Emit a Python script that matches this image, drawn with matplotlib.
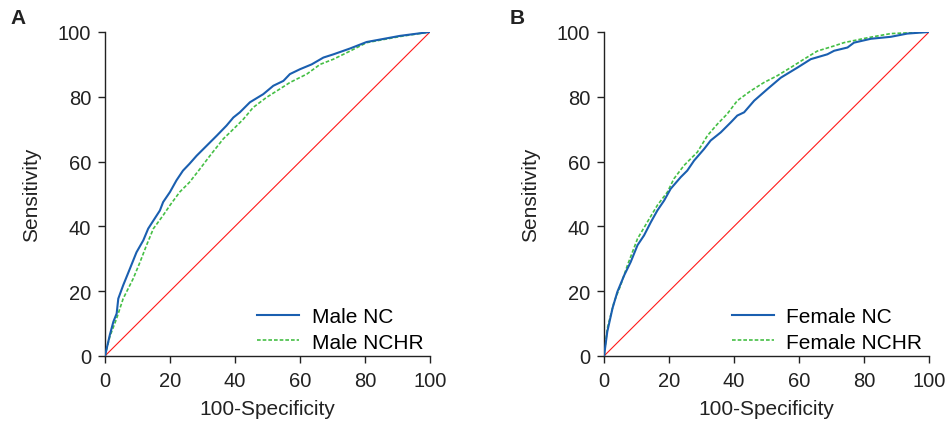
import matplotlib
matplotlib.use("Agg")
import matplotlib.pyplot as plt

plt.rcParams['font.family'] = ['Liberation Sans', 'DejaVu Sans']

# Panel A - Male
male_nc_x = [0, 1.5, 2.6, 3.6, 4.1, 5.6, 7.7, 9.7, 11.8, 13.3, 14.9, 16.9, 17.9, 20, 22, 24, 26, 28.2,
             31.3, 34.4, 37.4, 39.5, 41.5, 44.6, 48.7, 51.8, 54.9, 56.9, 60, 63.6, 67.2, 70.3, 75.4,
             80.5, 90.8, 100]
male_nc_y = [0, 6.5, 10.6, 13.1, 17.7, 21.8, 27, 32, 35.7, 39.3, 41.8, 44.9, 47.5, 50.6, 54.2, 57.2,
             59.3, 61.8, 64.9, 68, 71.1, 73.6, 75.2, 78.3, 80.8, 83.4, 84.9, 87, 88.5, 90, 92.1, 93.1,
             94.9, 96.9, 98.8, 100]
male_nchr_x = [0, 1.5, 3.6, 5.6, 8.7, 10.8, 12.8, 14.9, 17.9, 20, 23, 26, 29.2, 32.3, 36.4, 39.5,
               42.6, 45.6, 49.7, 53.8, 56.9, 62.1, 66.2, 70.3, 75.4, 80.5, 90.8, 100]
male_nchr_y = [0, 6, 11.6, 17.7, 23.9, 29, 34.2, 39.3, 43.4, 46.5, 50.6, 53.6, 57.7, 61.8, 67, 70,
               73.1, 76.7, 79.8, 82.4, 84.4, 87, 90, 91.6, 94.1, 96.7, 98.6, 100]

# Panel B - Female
female_nc_x = [0, 1, 2.6, 4.1, 6.2, 8.2, 10.3, 12.3, 14.4, 16.4, 18.5, 20.5, 23.6, 25.6, 27.7, 30.8,
               32.8, 35.9, 39, 41, 43.1, 46.2, 50.3, 54.4, 59.5, 63.6, 68.7, 70.8, 74.9, 76.9, 82.1,
               88.2, 93.3, 100]
female_nc_y = [0, 7.5, 14.7, 19.8, 24.9, 29, 34.2, 37.2, 41.3, 44.9, 48, 51.6, 55.2, 57.2, 60.3, 63.9,
               66.5, 69, 72.1, 74.2, 75.2, 78.8, 82.4, 85.9, 89, 91.6, 93.1, 94.2, 95.2, 96.7, 97.9,
               98.5, 99.5, 100]
female_nchr_x = [0, 1, 3.1, 5.1, 7.2, 10.3, 13.3, 16.4, 19.5, 21.5, 24.6, 28.7, 31.8, 34.9, 37.9, 41,
                 45.1, 49.2, 53.3, 57.4, 61.5, 65.6, 70.8, 73.8, 81, 88.2, 100]
female_nchr_y = [0, 8.5, 16.7, 21.8, 28, 36.2, 41.3, 46.5, 50.6, 54.7, 58.8, 62.9, 68, 71.6, 74.7, 78.8,
                 81.8, 84.4, 86.5, 89, 91.6, 94.1, 95.7, 96.7, 98.2, 99.5, 100]

ticks = [0, 20, 40, 60, 80, 100]
diag = [0, 100]

fig = plt.figure(figsize=(9.49, 4.27), dpi=100)
axA = fig.add_axes([0.1106, 0.164, 0.3425, 0.7588])
axB = fig.add_axes([0.6365, 0.164, 0.3425, 0.7588])

panels = [
    (axA, "A", male_nc_x, male_nc_y, male_nchr_x, male_nchr_y, "Male NC", "Male NCHR"),
    (axB, "B", female_nc_x, female_nc_y, female_nchr_x, female_nchr_y, "Female NC", "Female NCHR"),
]

blue = "#1a5fb0"
green = "#45bf45"
red = "#ff1a1a"

for ax, letter, x1, y1, x2, y2, l1, l2 in panels:
    ax.plot(diag, diag, color=red, lw=0.8, zorder=1)
    ax.plot(x2, y2, color=green, lw=1.2, ls=(0, (2.2, 1.2)), label=l2, zorder=2)
    ax.plot(x1, y1, color=blue, lw=1.5, label=l1, zorder=3)
    ax.set_xlim(0, 100)
    ax.set_ylim(0, 100)
    ax.set_xticks(ticks)
    ax.set_yticks(ticks)
    ax.spines['top'].set_visible(False)
    ax.spines['right'].set_visible(False)
    for s in ['left', 'bottom']:
        ax.spines[s].set_linewidth(1.0)
        ax.spines[s].set_color('#222222')
    ax.tick_params(direction='out', length=5, width=1.0, labelsize=14.5, colors='#222222')
    ax.tick_params(axis='x', pad=6)
    ax.tick_params(axis='y', pad=5)
    ax.set_xlabel("100-Specificity", fontsize=15, color='#222222', labelpad=6)
    ax.set_ylabel("Sensitivity", fontsize=15, color='#222222', labelpad=12)
    handles, labels = ax.get_legend_handles_labels()
    order = [1, 0]
    ax.legend([handles[i] for i in order], [labels[i] for i in order], loc='lower right',
              frameon=False, fontsize=15, handlelength=2.0, handletextpad=0.6,
              labelspacing=0.3, borderaxespad=0.0, bbox_to_anchor=(1.005, -0.012))
    ax.text(-0.29, 1.015, letter, transform=ax.transAxes, fontsize=15, fontweight='bold',
            color='#222222', va='bottom', ha='left')

fig.savefig("out.png", dpi=100)
